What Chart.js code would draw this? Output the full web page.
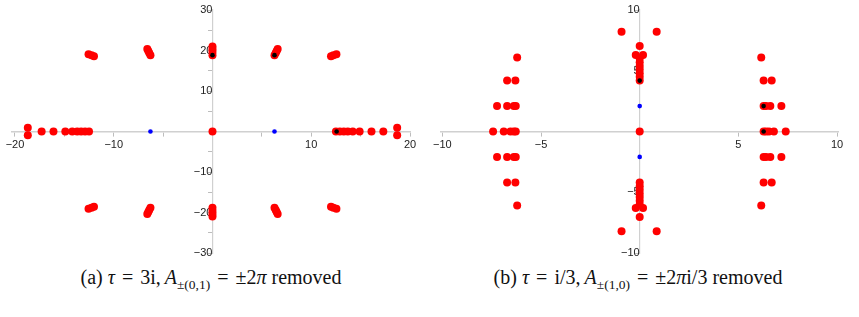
<!DOCTYPE html>
<html>
<head>
<meta charset="utf-8">
<script src="https://cdn.jsdelivr.net/npm/chart.js@4.4.0/dist/chart.umd.min.js"></script>
<style>
  body { margin: 0; background: #fff; width: 859px; height: 317px; overflow: hidden; position: relative; }
  canvas { position: absolute; top: 0; }
  #chartA { left: 0; }
  #chartB { left: 430px; }
  .caption { position: absolute; top: 266px; font-family: "Liberation Serif", serif; font-size: 20px; color: #111; white-space: nowrap; transform: translateX(-50%); }
  .caption sub { font-size: 13.5px; vertical-align: -5px; }
  .eq { padding: 0 7px; }
  .cm { padding-right: 4px; }
</style>
</head>
<body>
<canvas id="chartA" width="430" height="262"></canvas>
<canvas id="chartB" width="429" height="262"></canvas>
<div class="caption" style="left:211px">(a) <i>τ</i><span class="eq">=</span>3i,<span class="cm"></span><i>A</i><sub>±(0,1)</sub><span class="eq">=</span>±2<i>π</i> removed</div>
<div class="caption" style="left:638px">(b) <i>τ</i><span class="eq">=</span>i/3,<span class="cm"></span><i>A</i><sub>±(1,0)</sub><span class="eq">=</span>±2<i>π</i>i/3 removed</div>
<script>
// panel (a): tau = 3i
var redA = [
  [0, 0],
  [12.5, 0], [12.9, 0], [13.3, 0], [13.7, 0], [14.2, 0], [14.9, 0], [16.1, 0], [17.3, 0], [18.7, 0.9], [18.7, -0.9],
  [-12.5, 0], [-12.9, 0], [-13.3, 0], [-13.7, 0], [-14.2, 0], [-14.9, 0], [-16.1, 0], [-17.3, 0], [-18.7, 0.9], [-18.7, -0.9],
  [0, 18.85], [0, 19.6], [0, 20.3], [0, 21.0],
  [0, -18.85], [0, -19.6], [0, -20.3], [0, -21.0],
  [6.28, 18.85], [6.4, 19.4], [6.5, 19.9], [6.6, 20.4],
  [-6.28, 18.85], [-6.4, 19.4], [-6.5, 19.9], [-6.6, 20.4],
  [6.28, -18.85], [6.4, -19.4], [6.5, -19.9], [6.6, -20.4],
  [-6.28, -18.85], [-6.4, -19.4], [-6.5, -19.9], [-6.6, -20.4],
  [12.0, 18.6], [12.25, 18.85], [12.55, 19.1],
  [-12.0, 18.6], [-12.25, 18.85], [-12.55, 19.1],
  [12.0, -18.6], [12.25, -18.85], [12.55, -19.1],
  [-12.0, -18.6], [-12.25, -18.85], [-12.55, -19.1]
];
var blackA = [[0, 18.85], [6.28, 18.85], [12.57, 0]];
var blueA = [[-6.28, 0], [6.28, 0]];

// panel (b): tau = i/3
var redB = [
  [0, 0],
  [0, 4.19], [0, 4.5], [0, 4.8], [0, 5.1], [0, 5.4], [0, 5.7], [0, 6.0], [-0.2, 6.3], [0.17, 6.3], [0, 7.04], [-0.92, 8.2], [0.86, 8.2],
  [0, -4.19], [0, -4.5], [0, -4.8], [0, -5.1], [0, -5.4], [0, -5.7], [0, -6.0], [-0.2, -6.3], [0.17, -6.3], [0, -7.04], [-0.92, -8.2], [0.86, -8.2],
  [6.28, 0], [6.4, 0], [6.55, 0], [6.8, 0], [7.4, 0],
  [-6.28, 0], [-6.38, 0], [-6.55, 0], [-6.89, 0], [-7.43, 0],
  [6.28, 2.09], [6.4, 2.09], [6.62, 2.09], [7.18, 2.09],
  [6.28, -2.09], [6.4, -2.09], [6.62, -2.09], [7.18, -2.09],
  [-6.28, 2.09], [-6.38, 2.09], [-6.72, 2.09], [-7.23, 2.09],
  [-6.28, -2.09], [-6.38, -2.09], [-6.72, -2.09], [-7.23, -2.09],
  [6.28, 4.2], [6.69, 4.2], [-6.3, 4.2], [-6.72, 4.2],
  [6.28, -4.2], [6.69, -4.2], [-6.3, -4.2], [-6.72, -4.2],
  [6.16, 6.1], [-6.21, 6.1], [6.16, -6.1], [-6.21, -6.1]
];
var blackB = [[0, 4.19], [6.28, 0], [6.28, 2.09]];
var blueB = [[0, 2.09], [0, -2.09]];

function pts(arr) {
  return arr.map(function (p) { return { x: p[0], y: p[1] }; });
}

function fmt(v) {
  return String(v).replace('-', '\u2212');
}

function makeScale(min, max, step, labelEvery, isX) {
  return {
    type: 'linear',
    min: min,
    max: max,
    position: isX ? { y: 0 } : { x: 0 },
    grid: { display: true, drawOnChartArea: false, drawTicks: true, tickLength: 4, color: '#bdbdbd', lineWidth: 1 },
    border: { display: true, color: '#d0d0d0', width: isX ? 1.6 : 1.2 },
    ticks: {
      stepSize: step,
      includeBounds: false,
      autoSkip: false,
      maxRotation: 0,
      padding: isX ? 3 : 1,
      color: '#222',
      font: { family: 'Liberation Sans', size: 11 },
      callback: function (v) {
        if (v === 0 || Math.abs(v % labelEvery) > 1e-9) return '';
        return fmt(v);
      }
    }
  };
}

function makeChart(id, red, black, blue, xs, ys, pad) {
  var ctx = document.getElementById(id).getContext('2d');
  return new Chart(ctx, {
    type: 'scatter',
    data: {
      datasets: [
        { data: pts(blue), pointRadius: 2.3, backgroundColor: '#0000ff', borderWidth: 0, order: 3 },
        { data: pts(red), pointRadius: 4, backgroundColor: '#ff0000', borderWidth: 0, order: 2 },
        { data: pts(black), pointRadius: 2.3, backgroundColor: '#000000', borderWidth: 0, order: 1 }
      ]
    },
    options: {
      responsive: false,
      animation: false,
      layout: { padding: pad },
      plugins: { legend: { display: false }, tooltip: { enabled: false } },
      scales: { x: xs, y: ys }
    }
  });
}

makeChart('chartA', redA, blackA, blueA,
  makeScale(-20.3, 20.0, 5, 10, true),
  makeScale(-30, 30, 5, 10, false),
  { left: 12, right: 20, top: 10, bottom: 9 });

makeChart('chartB', redB, blackB, blueB,
  makeScale(-10.1, 10.05, 5, 5, true),
  makeScale(-10, 10, 5, 5, false),
  { left: 10, right: 21, top: 10, bottom: 9 });
</script>
</body>
</html>
